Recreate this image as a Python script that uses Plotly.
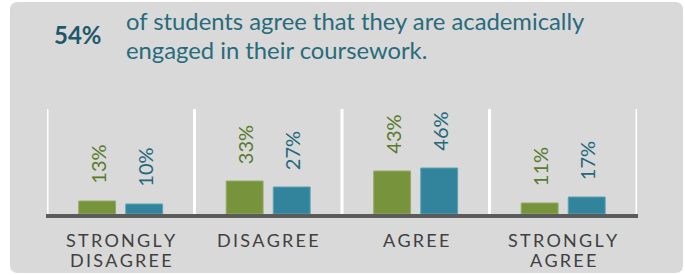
import plotly.graph_objects as go

# ---- data ----
categories = ["STRONGLY DISAGREE", "DISAGREE", "AGREE", "STRONGLY AGREE"]
category_lines = [["STRONGLY", "DISAGREE"], ["DISAGREE"], ["AGREE"], ["STRONGLY", "AGREE"]]
series_green = [13, 33, 43, 11]
series_blue = [10, 27, 46, 17]
headline_pct = "54%"
headline_lines = ["of students agree that they are academically",
                  "engaged in their coursework."]

W, H = 685, 275
def px(x):
    return x / W
def py(y):
    return 1 - y / H

GREEN = "#77933c"
BLUE = "#31849b"
GREEN_TXT = "#5a7a2c"
BLUE_TXT = "#24687a"
FONT = "Lato"

xs = list(range(len(categories)))
fig = go.Figure()
fig.add_bar(x=xs, y=series_green, width=0.25, offset=-0.285,
            marker=dict(color=GREEN, line=dict(color="#93ab66", width=1)))
fig.add_bar(x=xs, y=series_blue, width=0.25, offset=0.034,
            marker=dict(color=BLUE, line=dict(color="#5aa0b3", width=1)))

shapes = []
# rounded gray panel
x0, x1, y0, y1 = 10, 683, 2, 273
r = 8
rx, ry = r / W, r / H
X0, X1, Y0, Y1 = px(x0), px(x1), py(y0), py(y1)
path = (f"M {X0+rx},{Y0} L {X1-rx},{Y0} Q {X1},{Y0} {X1},{Y0-ry} "
        f"L {X1},{Y1+ry} Q {X1},{Y1} {X1-rx},{Y1} "
        f"L {X0+rx},{Y1} Q {X0},{Y1} {X0},{Y1+ry} "
        f"L {X0},{Y0-ry} Q {X0},{Y0} {X0+rx},{Y0} Z")
shapes.append(dict(type="path", xref="paper", yref="paper", path=path,
                   fillcolor="#d9d9d9", line=dict(width=0), layer="below"))
# white separators
for b in [-0.5, 0.5, 1.5, 2.5, 3.5]:
    shapes.append(dict(type="line", xref="x", yref="y", x0=b, x1=b, y0=0, y1=105,
                       line=dict(color="white", width=3), layer="below"))
# baseline
shapes.append(dict(type="rect", xref="paper", yref="paper",
                   x0=px(46), x1=px(638), y0=py(218), y1=py(214),
                   fillcolor="#5b5b5b", line=dict(width=0), layer="above"))

annotations = []
# value labels
for i, (g, b) in enumerate(zip(series_green, series_blue)):
    annotations.append(dict(x=i - 0.16, y=g, xref="x", yref="y", text=f"{g}%",
                            textangle=-90, yanchor="bottom", xanchor="center",
                            yshift=15, showarrow=False,
                            font=dict(family=FONT, size=20, color=GREEN_TXT)))
    annotations.append(dict(x=i + 0.159, y=b, xref="x", yref="y", text=f"{b}%",
                            textangle=-90, yanchor="bottom", xanchor="center",
                            yshift=15, showarrow=False,
                            font=dict(family=FONT, size=20, color=BLUE_TXT)))
# category labels
for i, lines in enumerate(category_lines):
    for j, line in enumerate(lines):
        annotations.append(dict(x=i, y=py(240 + 20 * j), xref="x", yref="paper",
                                text="\u2009".join(line), showarrow=False,
                                xanchor="center", yanchor="middle",
                                font=dict(family=FONT, size=18, color="#404040")))
# headline
annotations.append(dict(x=px(52), y=py(34), xref="paper", yref="paper",
                        text=f"<b>{headline_pct}</b>", showarrow=False,
                        xanchor="left", yanchor="middle",
                        font=dict(family=FONT, size=24, color="#1f5868")))
for j, line in enumerate(headline_lines):
    annotations.append(dict(x=px(124), y=py(21 + 29 * j), xref="paper", yref="paper",
                            text=line, showarrow=False, xanchor="left", yanchor="middle",
                            font=dict(family=FONT, size=23.8, color="#286b7c")))

fig.update_layout(
    width=W, height=H,
    margin=dict(l=0, r=0, t=0, b=0),
    paper_bgcolor="white", plot_bgcolor="rgba(0,0,0,0)",
    showlegend=False,
    xaxis=dict(domain=[px(47), px(637)], range=[-0.5, 3.5], showticklabels=False,
               showgrid=False, zeroline=False, ticks="", fixedrange=True),
    yaxis=dict(domain=[py(214), py(109)], range=[0, 105], showticklabels=False,
               showgrid=False, zeroline=False, ticks="", fixedrange=True),
    shapes=shapes, annotations=annotations,
)

fig.write_html("out.html", config={"displayModeBar": False},
               post_script="document.body.style.margin='0px';document.body.style.overflow='hidden';")
